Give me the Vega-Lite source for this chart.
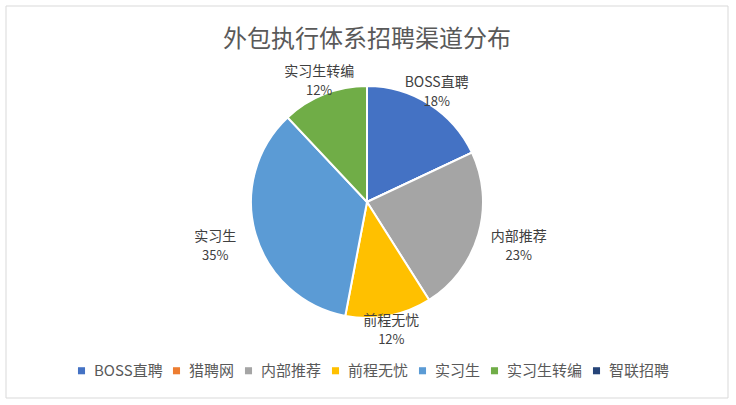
{
  "$schema": "https://vega.github.io/schema/vega-lite/v6.json",
  "width": 722,
  "height": 392,
  "padding": {"left": 5, "top": 5, "right": 9, "bottom": 8},
  "title": {
    "text": "外包执行体系招聘渠道分布",
    "offset": -46,
    "fontSize": 24,
    "font": "Noto Sans CJK SC",
    "fontWeight": "normal",
    "color": "#595959"
  },
  "config": {
    "view": {"stroke": null},
    "font": "Noto Sans CJK SC"
  },
  "datasets": {
    "channels": [
      {"i": 1, "channel": "BOSS直聘", "pct": 0.18},
      {"i": 2, "channel": "猎聘网", "pct": 0},
      {"i": 3, "channel": "内部推荐", "pct": 0.23},
      {"i": 4, "channel": "前程无忧", "pct": 0.12},
      {"i": 5, "channel": "实习生", "pct": 0.35},
      {"i": 6, "channel": "实习生转编", "pct": 0.12},
      {"i": 7, "channel": "智联招聘", "pct": 0}
    ]
  },
  "data": {"name": "channels"},
  "layer": [
    {
      "data": {"values": [{}]},
      "mark": {"type": "rect", "fill": null, "stroke": "#D9D9D9", "strokeWidth": 1},
      "encoding": {
        "x": {"value": 0},
        "x2": {"value": "width"},
        "y": {"value": 0},
        "y2": {"value": "height"}
      }
    },
    {
      "mark": {"type": "arc", "outerRadius": 116, "stroke": "white", "strokeWidth": 2},
      "encoding": {
        "theta": {"field": "pct", "type": "quantitative", "stack": true, "scale": {"domain": [0, 1]}},
        "order": {"field": "i", "type": "quantitative"},
        "color": {
          "field": "channel",
          "type": "nominal",
          "sort": ["BOSS直聘", "猎聘网", "内部推荐", "前程无忧", "实习生", "实习生转编", "智联招聘"],
          "scale": {
            "domain": ["BOSS直聘", "猎聘网", "内部推荐", "前程无忧", "实习生", "实习生转编", "智联招聘"],
            "range": ["#4472C4", "#ED7D31", "#A5A5A5", "#FFC000", "#5B9BD5", "#70AD47", "#264478"]
          },
          "legend": {
            "title": null,
            "orient": "none",
            "direction": "horizontal",
            "legendX": 68,
            "legendY": 357,
            "symbolType": "square",
            "symbolSize": 50,
            "symbolStrokeWidth": 0,
            "labelFontSize": 15,
            "labelColor": "#595959",
            "labelFont": "Noto Sans CJK SC",
            "columnPadding": 6,
            "labelOffset": 5
          }
        }
      }
    },
    {
      "transform": [
        {"stack": "pct", "groupby": [], "sort": [{"field": "i", "order": "ascending"}], "as": ["t0", "t1"]},
        {"calculate": "(datum.t0 + datum.t1) / 2", "as": "mid"},
        {"filter": "datum.pct > 0"}
      ],
      "encoding": {
        "theta": {"field": "mid", "type": "quantitative", "scale": {"domain": [0, 1]}}
      },
      "layer": [
        {
          "transform": [{"filter": "datum.channel != '内部推荐' && datum.channel != '实习生'"}],
          "mark": {"type": "text", "radius": 130, "dy": -9, "fontSize": 14, "color": "#404040"},
          "encoding": {"text": {"field": "channel"}}
        },
        {
          "transform": [{"filter": "datum.channel != '内部推荐' && datum.channel != '实习生'"}],
          "mark": {"type": "text", "radius": 130, "dy": 10, "fontSize": 13, "color": "#404040"},
          "encoding": {"text": {"field": "pct", "type": "quantitative", "format": ".0%"}}
        },
        {
          "transform": [{"filter": "datum.channel == '内部推荐' || datum.channel == '实习生'"}],
          "mark": {"type": "text", "radius": 158, "dy": -9, "fontSize": 14, "color": "#404040"},
          "encoding": {"text": {"field": "channel"}}
        },
        {
          "transform": [{"filter": "datum.channel == '内部推荐' || datum.channel == '实习生'"}],
          "mark": {"type": "text", "radius": 158, "dy": 10, "fontSize": 13, "color": "#404040"},
          "encoding": {"text": {"field": "pct", "type": "quantitative", "format": ".0%"}}
        }
      ]
    }
  ]
}
